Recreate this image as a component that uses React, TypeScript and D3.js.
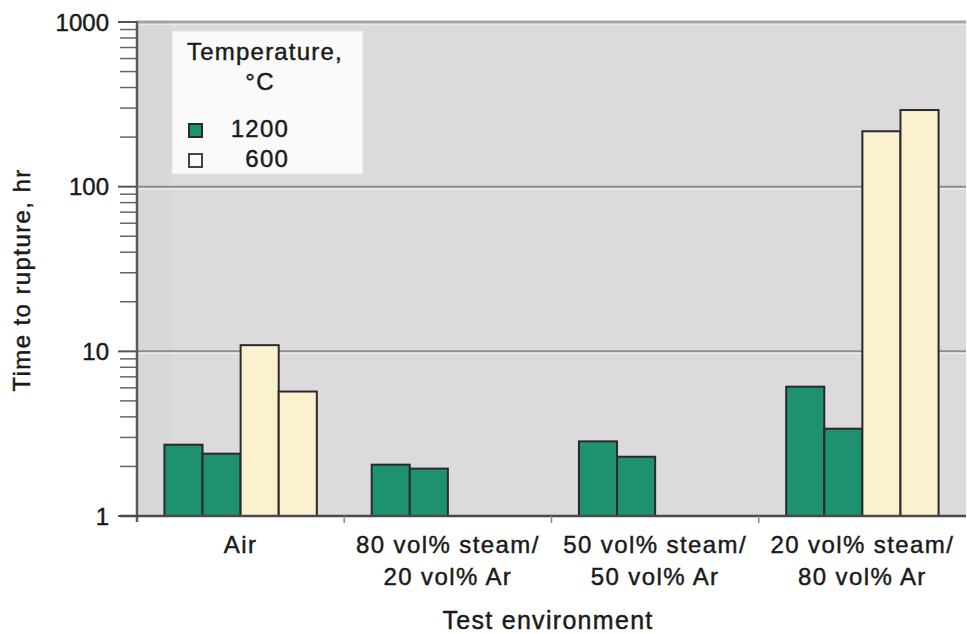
import React from "react";
import * as d3 from "d3";

const categories: string[][] = [
  ["Air"],
  ["80 vol% steam/", "20 vol% Ar"],
  ["50 vol% steam/", "50 vol% Ar"],
  ["20 vol% steam/", "80 vol% Ar"],
];
const t1200a: (number | null)[] = [2.71, 2.05, 2.84, 6.1];
const t1200b: (number | null)[] = [2.39, 1.94, 2.29, 3.39];
const t600a: (number | null)[] = [10.9, null, null, 217];
const t600b: (number | null)[] = [5.7, null, null, 292];
const yTicks: number[] = [1, 10, 100, 1000];
const legendLabels: string[] = ["1200", "600"];

const W = 967;
const H = 634;
const plot = { left: 137, right: 966, top: 22, bottom: 516 };
const GREEN = "#1d9170";
const CREAM = "#fbf1cf";
const FONT = "'Liberation Sans', Arial, Helvetica, sans-serif";
const TXT = { fill: "#1a1a1a", stroke: "#1a1a1a", strokeWidth: 0.45 };

export default function App() {
  const y = d3.scaleLog().domain([1, 1000]).range([plot.bottom, plot.top]);
  const x = d3
    .scaleBand<number>()
    .domain(categories.map((_, i) => i))
    .range([plot.left, plot.right])
    .padding(0);
  const inner = d3
    .scaleBand<number>()
    .domain([0, 1, 2, 3])
    .range([0, x.bandwidth()])
    .paddingInner(0)
    .paddingOuter(0.72);

  const series = [
    { values: t1200a, color: GREEN },
    { values: t1200b, color: GREEN },
    { values: t600a, color: CREAM },
    { values: t600b, color: CREAM },
  ];

  const minor: number[] = [];
  for (let d = 1; d < 1000; d *= 10) {
    for (let k = 2; k <= 9; k++) minor.push(d * k);
  }

  return (
    <svg
      width={W}
      height={H}
      style={{ position: "absolute", left: 0, top: 0, background: "#fff" }}
      fontFamily={FONT}
    >
      {/* plot background */}
      <rect
        x={plot.left}
        y={plot.top}
        width={plot.right - plot.left}
        height={plot.bottom - plot.top}
        fill="#dcdadd"
      />
      <rect
        x={plot.left}
        y={plot.top}
        width={34}
        height={plot.bottom - plot.top}
        fill="#d8d8da"
      />
      {/* gridlines */}
      {[10, 100].map((v) => (
        <g key={v}>
          <line x1={plot.left} x2={plot.right} y1={y(v)} y2={y(v)} stroke="#8d8d8f" strokeWidth={2} />
          <line x1={plot.left} x2={plot.right} y1={y(v) + 2} y2={y(v) + 2} stroke="#ececee" strokeWidth={1.5} />
        </g>
      ))}
      {/* top border */}
      <line x1={plot.left} x2={plot.right} y1={plot.top} y2={plot.top} stroke="#a3a3a5" strokeWidth={3} />
      <line x1={plot.left} x2={plot.right} y1={plot.top + 2.5} y2={plot.top + 2.5} stroke="#e8e8ea" strokeWidth={1.5} />

      {/* bars */}
      {categories.map((_, gi) =>
        series.map((s, si) => {
          const v = s.values[gi];
          if (v == null) return null;
          const x0 = (x(gi) as number) + (inner(si) as number);
          return (
            <rect
              key={`${gi}-${si}`}
              x={x0}
              y={y(v)}
              width={inner.bandwidth()}
              height={y(1) - y(v)}
              fill={s.color}
              stroke="#2a2a2a"
              strokeWidth={2}
            />
          );
        })
      )}

      {/* legend */}
      <rect x={172} y={31} width={191} height={143} fill="#fafafa" stroke="#e2e2e2" strokeWidth={1} />
      <text x={265} y={60} fontSize={24} textAnchor="middle" letterSpacing={1.2} {...TXT}>
        Temperature,
      </text>
      <text x={260} y={90} fontSize={24} textAnchor="middle" letterSpacing={1.2} {...TXT}>
        °C
      </text>
      {legendLabels.map((l, i) => (
        <g key={l}>
          <rect
            x={189}
            y={124 + i * 30}
            width={13}
            height={13}
            fill={i === 0 ? GREEN : "#fbfbf6"}
            stroke={i === 0 ? "#2a2a2a" : "#444"}
            strokeWidth={2}
          />
          <text x={289} y={137 + i * 30} fontSize={24} textAnchor="end" letterSpacing={1.2} {...TXT}>
            {l}
          </text>
        </g>
      ))}

      {/* y axis */}
      {minor.map((v) => (
        <line key={v} x1={120} x2={plot.left} y1={y(v)} y2={y(v)} stroke="#666" strokeWidth={1.5} />
      ))}
      {yTicks.map((v) => (
        <g key={v}>
          <line x1={118} x2={plot.left} y1={y(v)} y2={y(v)} stroke="#555" strokeWidth={2} />
          <text x={109} y={y(v)} fontSize={24} textAnchor="end" dominantBaseline="central" {...TXT}>
            {v}
          </text>
        </g>
      ))}
      <line x1={plot.left} x2={plot.left} y1={plot.top - 1} y2={plot.bottom + 6} stroke="#5a5a5a" strokeWidth={2.5} />
      <text
        transform={`translate(30,${(plot.top + plot.bottom) / 2 + 11}) rotate(-90)`}
        fontSize={24}
        textAnchor="middle"
        letterSpacing={1.4}
        {...TXT}
      >
        Time to rupture, hr
      </text>

      {/* x axis */}
      <line x1={120} x2={plot.right} y1={plot.bottom} y2={plot.bottom} stroke="#4a4a4a" strokeWidth={2.5} />
      {categories.map((_, i) =>
        i === 0 ? null : (
          <line
            key={i}
            x1={x(i) as number}
            x2={x(i) as number}
            y1={plot.bottom}
            y2={plot.bottom + 7}
            stroke="#8a8a8a"
            strokeWidth={1.5}
          />
        )
      )}
      {categories.map((lines, i) => (
        <text
          key={i}
          x={(x(i) as number) + x.bandwidth() / 2}
          fontSize={24}
          textAnchor="middle"
          letterSpacing={1.4}
          {...TXT}
        >
          {lines.map((ln, li) => (
            <tspan key={li} x={(x(i) as number) + x.bandwidth() / 2} y={553 + li * 32}>
              {ln}
            </tspan>
          ))}
        </text>
      ))}
      <text x={548} y={629} fontSize={25} textAnchor="middle" letterSpacing={1.3} {...TXT}>
        Test environment
      </text>
    </svg>
  );
}
